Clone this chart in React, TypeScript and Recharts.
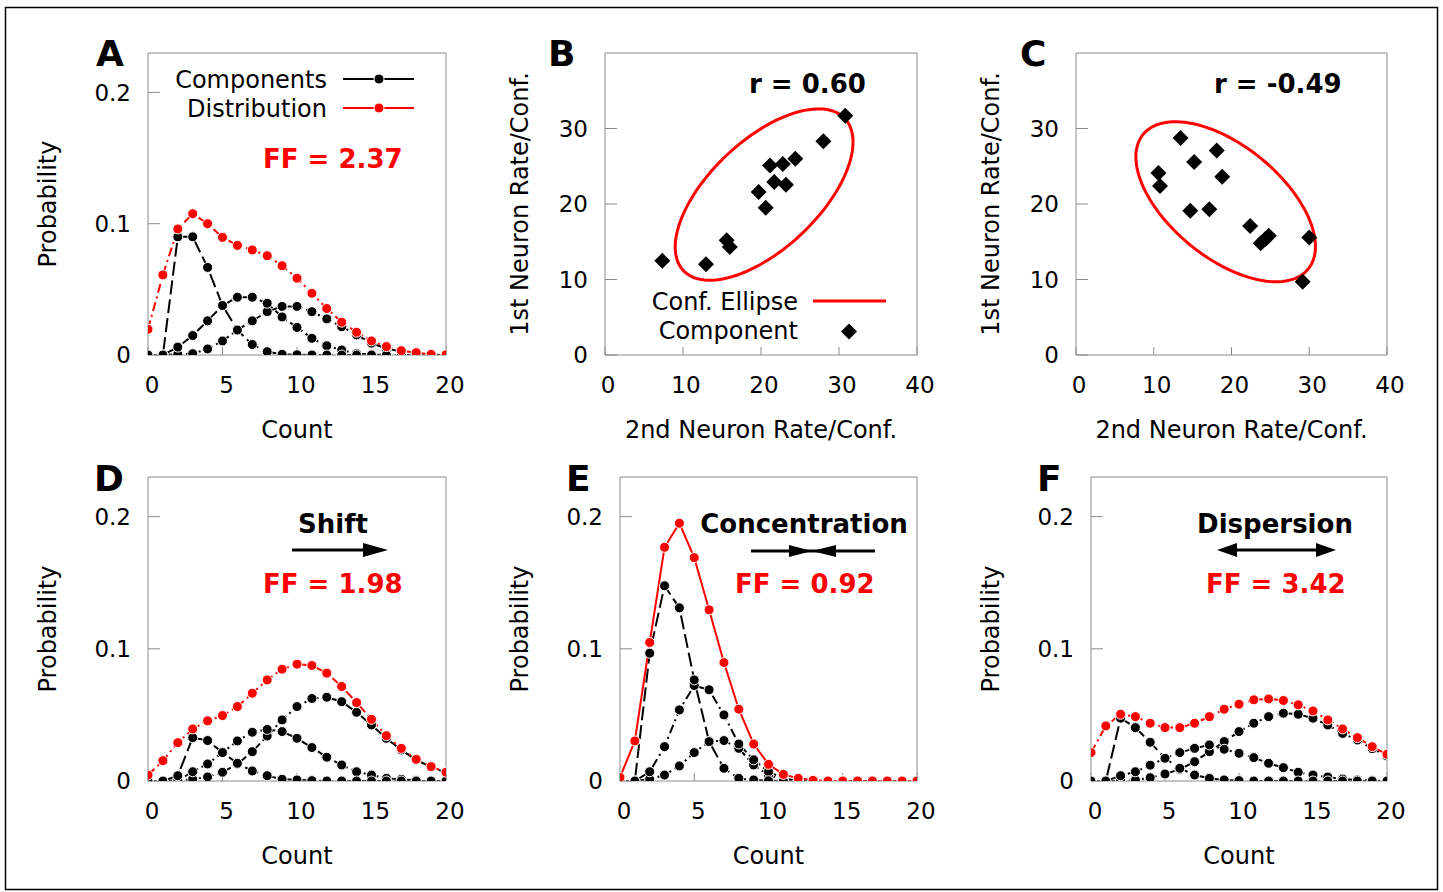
import React from 'react';
import { LineChart, Line, ScatterChart, Scatter, XAxis, YAxis } from 'recharts';

// spike count categories shared by the four distribution panels
const counts = [0, 1, 2, 3, 4, 5, 6, 7, 8, 9, 10, 11, 12, 13, 14, 15, 16, 17, 18, 19, 20];
const countTicks = [0, 5, 10, 15, 20];
const probTicks = [0, 0.1, 0.2];
const rateTicks = [0, 10, 20, 30, 40];
const rateYTicks = [0, 10, 20, 30];

// panel A
const distA = [0.0196, 0.061, 0.096, 0.1076, 0.1, 0.0896, 0.0835, 0.08, 0.0756, 0.068, 0.0585, 0.047, 0.0354, 0.025, 0.0173, 0.0107, 0.0064, 0.0033, 0.0018, 0.0005, 0.0002];
const compA1 = [0, 0, 0.09, 0.09, 0.0667, 0.0377, 0.019, 0.008, 0.0025, 0.0005, 0.0002, 0, 0, 0, 0, 0, 0, 0, 0, 0, 0];
const compA2 = [0, 0, 0.006, 0.0148, 0.026, 0.0377, 0.044, 0.044, 0.0394, 0.029, 0.021, 0.0127, 0.007, 0.0038, 0.001, 0.0004, 0.0001, 0, 0, 0, 0];
const compA3 = [0, 0, 0.0005, 0.001, 0.0046, 0.0107, 0.019, 0.026, 0.033, 0.037, 0.037, 0.033, 0.0275, 0.0216, 0.0153, 0.009, 0.005, 0.0025, 0.001, 0.0003, 0];

// panel D
const distD = [0.0045, 0.0154, 0.029, 0.0394, 0.0455, 0.0495, 0.0563, 0.0664, 0.0765, 0.0846, 0.0884, 0.0874, 0.0816, 0.0715, 0.0593, 0.0467, 0.0343, 0.0247, 0.0164, 0.0109, 0.0066];
const compD1 = [0, 0, 0.004, 0.0328, 0.0306, 0.0215, 0.0134, 0.0076, 0.004, 0.0013, 0.0008, 0.0003, 0, 0, 0, 0, 0, 0, 0, 0, 0];
const compD2 = [0, 0, 0.0005, 0.007, 0.0129, 0.0215, 0.0303, 0.0369, 0.039, 0.0374, 0.0323, 0.0253, 0.018, 0.0121, 0.007, 0.0045, 0.002, 0.0013, 0.0005, 0.0002, 0];
const compD3 = [0, 0, 0, 0.0013, 0.003, 0.0066, 0.0129, 0.0222, 0.034, 0.0462, 0.0563, 0.0624, 0.0634, 0.06, 0.052, 0.0424, 0.0323, 0.0235, 0.016, 0.0105, 0.0064];

// panel E
const distE = [0.0028, 0.0303, 0.1048, 0.1768, 0.195, 0.169, 0.1295, 0.0896, 0.0543, 0.028, 0.0126, 0.005, 0.002, 0.0005, 0, 0, 0, 0, 0, 0, 0];
const compE1 = [0, 0, 0.0967, 0.1477, 0.131, 0.0765, 0.0298, 0.0096, 0.002, 0.0008, 0.0002, 0, 0, 0, 0, 0, 0, 0, 0, 0, 0];
const compE2 = [0, 0, 0.007, 0.026, 0.0538, 0.0722, 0.069, 0.05, 0.028, 0.016, 0.007, 0.002, 0, 0, 0, 0, 0, 0, 0, 0, 0];
const compE3 = [0, 0, 0.0013, 0.0045, 0.0114, 0.0215, 0.0298, 0.0306, 0.0247, 0.0121, 0.0045, 0.001, 0, 0, 0, 0, 0, 0, 0, 0, 0];

// panel F
const distF = [0.0215, 0.0417, 0.0505, 0.0487, 0.0437, 0.0404, 0.0404, 0.0437, 0.0487, 0.0543, 0.0581, 0.0614, 0.0621, 0.0609, 0.0576, 0.053, 0.0462, 0.0394, 0.0328, 0.026, 0.0202];
const compF1 = [0, 0, 0.0475, 0.0404, 0.0293, 0.0172, 0.0096, 0.0045, 0.002, 0.0008, 0.0003, 0, 0, 0, 0, 0, 0, 0, 0, 0, 0];
const compF2 = [0, 0, 0.004, 0.007, 0.012, 0.0172, 0.0215, 0.0247, 0.0273, 0.024, 0.021, 0.0177, 0.0134, 0.0101, 0.0066, 0.0045, 0.003, 0.0015, 0.0008, 0.0003, 0];
const compF3 = [0, 0, 0, 0.0008, 0.0025, 0.0053, 0.0088, 0.0146, 0.0222, 0.0298, 0.0374, 0.0437, 0.0487, 0.0513, 0.0505, 0.0475, 0.0424, 0.036, 0.031, 0.0245, 0.019];

// panel B / C scatter (2nd neuron, 1st neuron)
const xB = [7.35, 12.95, 15.6, 16.0, 19.7, 20.6, 21.15, 21.7, 22.8, 23.2, 24.4, 28.0, 30.8];
const yB = [12.47, 12.03, 15.2, 14.3, 21.6, 19.5, 25.1, 22.9, 25.3, 22.55, 26.0, 28.3, 31.7];
const xC = [13.45, 18.1, 15.2, 10.6, 10.8, 18.8, 14.7, 17.15, 22.4, 23.75, 24.4, 24.8, 30.0, 29.15];
const yC = [28.75, 27.1, 25.55, 24.1, 22.4, 23.6, 19.1, 19.3, 17.1, 14.8, 15.4, 15.8, 15.55, 9.7];

// confidence ellipses: centre, half extents along x / y, phase between them
const ellipseB = { cx: 20.4, cy: 21.25, ax: 11.4, ay: 11.35, phase: 0.912 };
const ellipseC = { cx: 19.25, cy: 20.3, ax: 11.55, ay: 10.6, phase: 2.165 };

const AXIS = '#8a8a8a';
const RED = '#ff0000';
const FONT = '"DejaVu Sans", sans-serif';
const PAD_L = 130;

type Box = { px: number; py: number; pw: number; ph: number; labelDx: number };

const boxA: Box = { px: 148, py: 53, pw: 298, ph: 302, labelDx: 101 };
const boxB: Box = { px: 605, py: 53, pw: 312, ph: 302, labelDx: 86 };
const boxC: Box = { px: 1076, py: 53, pw: 311, ph: 302, labelDx: 86 };
const boxD: Box = { px: 148, py: 477, pw: 298, ph: 304, labelDx: 101 };
const boxE: Box = { px: 620, py: 477, pw: 297, ph: 304, labelDx: 101 };
const boxF: Box = { px: 1091, py: 477, pw: 296, ph: 304, labelDx: 101 };

function frameAxes(
  box: Box,
  xd: number[],
  xt: number[],
  yd: number[],
  yt: number[],
  xLabel: string,
  yLabel: string,
  scatter: boolean
) {
  return [
    <XAxis
      key="xb"
      dataKey="x"
      type="number"
      domain={xd}
      ticks={xt}
      interval={0}
      allowDataOverflow
      height={95}
      stroke={AXIS}
      axisLine={{ stroke: AXIS }}
      tickLine={{ stroke: AXIS }}
      tickSize={-8}
      tickMargin={30}
      tick={{ fill: '#000', fontSize: 23, dx: scatter ? 3 : 4 }}
      label={{ value: xLabel, position: 'insideBottom', offset: 12, fill: '#000', fontSize: 24 }}
    />,
    <XAxis
      key="xt"
      xAxisId="top"
      orientation="top"
      type="number"
      domain={xd}
      ticks={xt}
      interval={0}
      allowDataOverflow
      height={1}
      stroke={AXIS}
      axisLine={{ stroke: AXIS }}
      tickLine={{ stroke: AXIS }}
      tickSize={-9}
      tick={false}
    />,
    <YAxis
      key="yl"
      dataKey={scatter ? 'y' : undefined}
      type="number"
      domain={yd}
      ticks={yt}
      interval={0}
      allowDataOverflow
      width={box.labelDx}
      stroke={AXIS}
      axisLine={{ stroke: AXIS }}
      tickLine={{ stroke: AXIS }}
      tickSize={-12}
      tickMargin={29}
      tick={{ fill: '#000', fontSize: 23 }}
      label={{
        value: yLabel,
        angle: -90,
        position: 'insideLeft',
        offset: 0,
        fill: '#000',
        fontSize: 24,
        style: { textAnchor: 'middle' },
      }}
    />,
    <YAxis
      key="yr"
      yAxisId="right"
      orientation="right"
      type="number"
      domain={yd}
      ticks={yt}
      interval={0}
      allowDataOverflow
      width={1}
      stroke={AXIS}
      axisLine={{ stroke: AXIS }}
      tickLine={{ stroke: AXIS }}
      tickSize={-12}
      tick={false}
    />,
  ];
}

interface DistProps {
  box: Box;
  dist: number[];
  c1: number[];
  c2: number[];
  c3: number[];
  redDash: string;
  c1Dash: string;
}

function DistPanel({ box, dist, c1, c2, c3, redDash, c1Dash }: DistProps) {
  const data = counts.map((x, i) => ({ x, d: dist[i], c1: c1[i], c2: c2[i], c3: c3[i] }));
  const blackDot = { r: 5, fill: '#000', stroke: '#fff', strokeWidth: 1, strokeDasharray: 'none' };
  const redDot = { r: 5, fill: RED, stroke: '#fff', strokeWidth: 1, strokeDasharray: 'none' };
  return (
    <div style={{ position: 'absolute', left: box.px - PAD_L, top: box.py - 50 }}>
      <LineChart
        width={box.pw + PAD_L + 20}
        height={box.ph + 145}
        data={data}
        margin={{ left: PAD_L - box.labelDx, top: 49, right: 19, bottom: 0 }}
      >
        {frameAxes(box, [0, 20], countTicks, [0, 0.23], probTicks, 'Count', 'Probability', false)}
        <Line type="linear" dataKey="c3" stroke="#000" strokeWidth={2} strokeDasharray="9 4 2 4" dot={blackDot} isAnimationActive={false} />
        <Line type="linear" dataKey="c2" stroke="#000" strokeWidth={2} strokeDasharray="9 4 2 4" dot={blackDot} isAnimationActive={false} />
        <Line type="linear" dataKey="c1" stroke="#000" strokeWidth={2} strokeDasharray={c1Dash} dot={blackDot} isAnimationActive={false} />
        <Line type="linear" dataKey="d" stroke={RED} strokeWidth={2} strokeDasharray={redDash} dot={redDot} isAnimationActive={false} />
      </LineChart>
    </div>
  );
}

const Diamond = (props: any) => {
  const { cx, cy } = props;
  const s = 8;
  return <polygon points={`${cx},${cy - s} ${cx + s},${cy} ${cx},${cy + s} ${cx - s},${cy}`} fill="#000" />;
};

interface ScatterProps {
  box: Box;
  xs: number[];
  ys: number[];
  ellipse: { cx: number; cy: number; ax: number; ay: number; phase: number };
}

function ScatterPanel({ box, xs, ys, ellipse }: ScatterProps) {
  const pts = xs.map((x, i) => ({ x, y: ys[i] }));
  const ring: { x: number; y: number }[] = [];
  for (let k = 0; k <= 120; k++) {
    const t = (k / 120) * Math.PI * 2;
    ring.push({
      x: ellipse.cx + ellipse.ax * Math.cos(t),
      y: ellipse.cy + ellipse.ay * Math.cos(t + ellipse.phase),
    });
  }
  return (
    <div style={{ position: 'absolute', left: box.px - PAD_L, top: box.py - 50 }}>
      <ScatterChart
        width={box.pw + PAD_L + 20}
        height={box.ph + 145}
        margin={{ left: PAD_L - box.labelDx, top: 49, right: 19, bottom: 0 }}
      >
        {frameAxes(box, [0, 40], rateTicks, [0, 40], rateYTicks, '2nd Neuron Rate/Conf.', '1st Neuron Rate/Conf.', true)}
        <Scatter
          data={ring}
          line={{ stroke: RED, strokeWidth: 3 }}
          lineType="joint"
          shape={() => <g />}
          isAnimationActive={false}
        />
        <Scatter data={pts} shape={Diamond} fill="#000" isAnimationActive={false} />
      </ScatterChart>
    </div>
  );
}

const letterStyle = { fontSize: 36, fontWeight: 700 as const, fill: '#000' };
const noteStyle = { fontSize: 26, fontWeight: 700 as const };

export default function App() {
  return (
    <div
      style={{
        position: 'absolute',
        left: 0,
        top: 0,
        width: 1443,
        height: 892,
        background: '#fff',
        fontFamily: FONT,
        overflow: 'hidden',
      }}
    >
      <DistPanel box={boxA} dist={distA} c1={compA1} c2={compA2} c3={compA3} redDash="9 4 2 4" c1Dash="14 5" />
      <ScatterPanel box={boxB} xs={xB} ys={yB} ellipse={ellipseB} />
      <ScatterPanel box={boxC} xs={xC} ys={yC} ellipse={ellipseC} />
      <DistPanel box={boxD} dist={distD} c1={compD1} c2={compD2} c3={compD3} redDash="9 4 2 4" c1Dash="14 5" />
      <DistPanel box={boxE} dist={distE} c1={compE1} c2={compE2} c3={compE3} redDash="none" c1Dash="14 5" />
      <DistPanel box={boxF} dist={distF} c1={compF1} c2={compF2} c3={compF3} redDash="9 4 2 4" c1Dash="14 5" />

      <svg
        width={1443}
        height={892}
        style={{ position: 'absolute', left: 0, top: 0, pointerEvents: 'none', fontFamily: FONT }}
      >
        <rect x={5.5} y={7.5} width={1432} height={882} fill="none" stroke="#000" strokeWidth={1.5} />

        <text x={96} y={66} style={letterStyle}>A</text>
        <text x={548} y={66} style={letterStyle}>B</text>
        <text x={1020} y={66} style={letterStyle}>C</text>
        <text x={94} y={491} style={letterStyle}>D</text>
        <text x={566} y={491} style={letterStyle}>E</text>
        <text x={1037} y={491} style={letterStyle}>F</text>

        {/* legend, panel A */}
        <text x={327} y={88} textAnchor="end" fontSize={24} fill="#000">Components</text>
        <line x1={343} y1={79} x2={414} y2={79} stroke="#000" strokeWidth={2} />
        <circle cx={379} cy={79} r={5} fill="#000" stroke="#fff" strokeWidth={1} />
        <text x={327} y={117} textAnchor="end" fontSize={24} fill="#000">Distribution</text>
        <line x1={343} y1={108} x2={414} y2={108} stroke={RED} strokeWidth={2} />
        <circle cx={379} cy={108} r={5} fill={RED} stroke="#fff" strokeWidth={1} />
        <text x={263} y={168} style={noteStyle} fill={RED}>FF = 2.37</text>

        {/* panel B */}
        <text x={749} y={93} style={noteStyle} fill="#000">r = 0.60</text>
        <text x={798} y={310} textAnchor="end" fontSize={24} fill="#000">Conf. Ellipse</text>
        <line x1={813} y1={301} x2={886} y2={301} stroke={RED} strokeWidth={3} />
        <text x={798} y={339} textAnchor="end" fontSize={24} fill="#000">Component</text>
        <polygon points="849,323.5 857,331.5 849,339.5 841,331.5" fill="#000" />

        {/* panel C */}
        <text x={1214} y={93} style={noteStyle} fill="#000">r = -0.49</text>

        {/* panel D */}
        <text x={333} y={533} textAnchor="middle" style={noteStyle} fill="#000">Shift</text>
        <line x1={292} y1={550} x2={366} y2={550} stroke="#000" strokeWidth={3} />
        <polygon points="363,543 388,550 363,557" fill="#000" />
        <text x={263} y={593} style={noteStyle} fill={RED}>FF = 1.98</text>

        {/* panel E */}
        <text x={804} y={533} textAnchor="middle" style={noteStyle} fill="#000">Concentration</text>
        <line x1={751} y1={551} x2={875} y2={551} stroke="#000" strokeWidth={3} />
        <polygon points="789,545 812,551 789,557" fill="#000" />
        <polygon points="836,545 812,551 836,557" fill="#000" />
        <text x={735} y={593} style={noteStyle} fill={RED}>FF = 0.92</text>

        {/* panel F */}
        <text x={1275} y={533} textAnchor="middle" style={noteStyle} fill="#000">Dispersion</text>
        <line x1={1230} y1={550} x2={1324} y2={550} stroke="#000" strokeWidth={3} />
        <polygon points="1237,543 1217,550 1237,557" fill="#000" />
        <polygon points="1316,543 1336,550 1316,557" fill="#000" />
        <text x={1206} y={593} style={noteStyle} fill={RED}>FF = 3.42</text>
      </svg>
    </div>
  );
}
